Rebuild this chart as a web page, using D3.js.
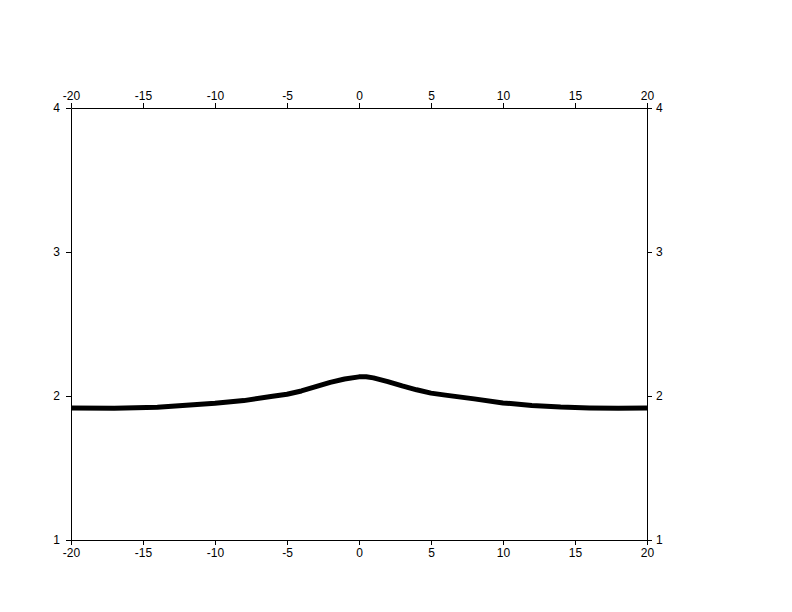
<!DOCTYPE html>
<html>
<head>
<meta charset="utf-8">
<script src="https://cdn.jsdelivr.net/npm/d3@7"></script>
<style>
	body { margin: 0; background: #fff; }
	svg text { font-family: "Liberation Sans", Arial, sans-serif; font-size: 12px; fill: #000; }
</style>
</head>
<body>
<div id="chart"></div>
<script>
// curve
const xValues = [-20, -17, -14, -12, -10, -8, -6, -5, -4, -3, -2, -1, 0, 0.5, 1, 2, 3, 4, 5, 6, 8, 10, 12, 14, 16, 18, 20];
const yValues = [1.917, 1.915, 1.922, 1.935, 1.949, 1.968, 1.998, 2.012, 2.035, 2.065, 2.095, 2.118, 2.133, 2.134, 2.126, 2.1, 2.07, 2.043, 2.02, 2.006, 1.98, 1.952, 1.934, 1.923, 1.917, 1.915, 1.917];
const xTicks = [-20, -15, -10, -5, 0, 5, 10, 15, 20];
const yTicks = [1, 2, 3, 4];

const width = 792, height = 612;
const margin = { top: 108, right: 145, bottom: 72, left: 71 };

const svg = d3.select('#chart').append('svg')
	.attr('width', width)
	.attr('height', height);

const x = d3.scaleLinear().domain([-20, 20]).range([margin.left, width - margin.right]);
const y = d3.scaleLinear().domain([1, 4]).range([height - margin.bottom, margin.top]);

const data = xValues.map((v, i) => ({ x: v, y: yValues[i] }));
const fmt = d => String(d);

svg.append('path')
	.datum(data)
	.attr('fill', 'none')
	.attr('stroke', '#000')
	.attr('stroke-width', 5)
	.attr('stroke-linejoin', 'round')
	.attr('d', d3.line().x(d => x(d.x)).y(d => y(d.y)));

function styleAxis(g) {
	g.select('.domain').attr('stroke', '#000').attr('stroke-width', 1);
	g.selectAll('.tick line').attr('stroke', '#000');
	g.selectAll('.tick text').attr('font-family', null).attr('font-size', null);
}

svg.append('g')
	.attr('transform', `translate(0,${height - margin.bottom})`)
	.call(d3.axisBottom(x).tickValues(xTicks).tickFormat(fmt).tickSize(5).tickSizeOuter(0).tickPadding(3))
	.call(styleAxis);

svg.append('g')
	.attr('transform', `translate(0,${margin.top})`)
	.call(d3.axisTop(x).tickValues(xTicks).tickFormat(fmt).tickSize(5).tickSizeOuter(0).tickPadding(3))
	.call(styleAxis);

svg.append('g')
	.attr('transform', `translate(${margin.left},0)`)
	.call(d3.axisLeft(y).tickValues(yTicks).tickFormat(fmt).tickSize(5).tickSizeOuter(0).tickPadding(6))
	.call(styleAxis);

svg.append('g')
	.attr('transform', `translate(${width - margin.right},0)`)
	.call(d3.axisRight(y).tickValues(yTicks).tickFormat(fmt).tickSize(5).tickSizeOuter(0).tickPadding(4))
	.call(styleAxis);
</script>
</body>
</html>
